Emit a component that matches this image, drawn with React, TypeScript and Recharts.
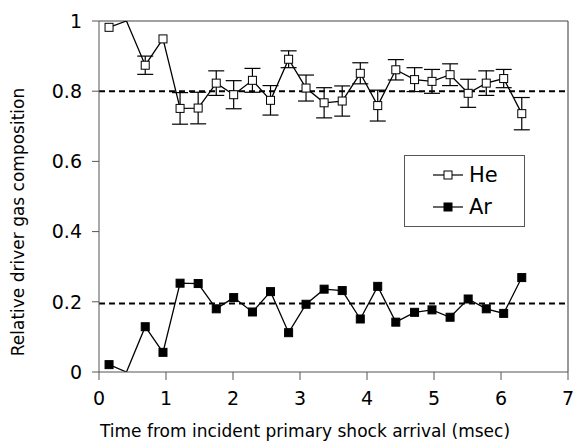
import React from "react";
import {
  ComposedChart,
  Line,
  XAxis,
  YAxis,
  ReferenceLine,
  ErrorBar,
  Label,
} from "recharts";

const times = [0.15, 0.41, 0.69, 0.955, 1.21, 1.48, 1.75, 2.01, 2.29, 2.56, 2.83, 3.09, 3.36, 3.63, 3.9, 4.16, 4.43, 4.71, 4.97, 5.24, 5.51, 5.78, 6.04, 6.31];
const heValues = [0.982, 1.0, 0.874, 0.949, 0.751, 0.752, 0.823, 0.79, 0.831, 0.774, 0.891, 0.809, 0.767, 0.772, 0.851, 0.759, 0.861, 0.833, 0.828, 0.847, 0.794, 0.823, 0.836, 0.736];
const heErrors = [null, null, 0.026, null, 0.045, 0.045, 0.035, 0.04, 0.034, 0.042, 0.024, 0.037, 0.043, 0.043, 0.03, 0.044, 0.029, 0.034, 0.034, 0.031, 0.04, 0.035, 0.026, 0.046];
const arValues = [0.021, 0.0, 0.129, 0.056, 0.253, 0.252, 0.18, 0.212, 0.171, 0.229, 0.112, 0.193, 0.236, 0.232, 0.151, 0.244, 0.142, 0.17, 0.177, 0.156, 0.208, 0.18, 0.167, 0.269];
const hiddenMarkers = [1];
const xTicks = [0, 1, 2, 3, 4, 5, 6, 7];
const yTicks = [0, 0.2, 0.4, 0.6, 0.8, 1];
const heMean = 0.8;
const arMean = 0.195;
const seriesNames = ["He", "Ar"];

const data = times.map((t, i) => ({
  t,
  he: heValues[i],
  heErr: heErrors[i],
  ar: arValues[i],
}));

const FONT = "DejaVu Sans";

const makeDot = (filled: boolean) => (props: any) => {
  const { cx, cy, index } = props;
  if (hiddenMarkers.includes(index) || cx == null || cy == null) {
    return <g key={`d-${filled}-${index}`} />;
  }
  const s = 8;
  return (
    <rect
      key={`d-${filled}-${index}`}
      x={cx - s / 2}
      y={cy - s / 2}
      width={s}
      height={s}
      fill={filled ? "#000" : "#fff"}
      stroke="#000"
      strokeWidth={1}
    />
  );
};

const LegendBox = () => (
  <div
    style={{
      position: "absolute",
      left: 404,
      top: 155,
      width: 121,
      height: 72,
      border: "1px solid #555",
      background: "#fff",
      fontFamily: FONT,
      fontSize: 21,
      boxSizing: "border-box",
      paddingLeft: 28,
      paddingTop: 3,
    }}
  >
    {seriesNames.map((name, i) => (
      <div key={name} style={{ display: "flex", alignItems: "center", height: 32 }}>
        <svg width={32} height={12} style={{ marginRight: 4 }}>
          <line x1={0} y1={6} x2={30} y2={6} stroke="#000" strokeWidth={1.2} />
          <rect x={11} y={2} width={8} height={8} fill={i === 1 ? "#000" : "#fff"} stroke="#000" />
        </svg>
        <span style={{ lineHeight: "32px" }}>{name}</span>
      </div>
    ))}
  </div>
);

export default function App() {
  return (
    <div style={{ position: "absolute", left: 0, top: 0, width: 575, height: 444 }}>
      <ComposedChart
        width={575}
        height={444}
        data={data}
        margin={{ top: 21, right: 7, left: 0, bottom: 0 }}
      >
        <XAxis
          type="number"
          dataKey="t"
          domain={[0, 7]}
          ticks={xTicks}
          allowDataOverflow
          height={72}
          stroke="#555"
          tickSize={8}
          tickMargin={12}
          tick={{ fill: "#000", fontSize: 19, fontFamily: FONT }}
          tickLine={{ stroke: "#555" }}
        >
          <Label
            content={() => (
              <text x={305} y={437} textAnchor="middle" fontFamily={FONT} fontSize={17} fill="#000">
                Time from incident primary shock arrival (msec)
              </text>
            )}
          />
        </XAxis>
        <YAxis
          type="number"
          domain={[0, 1]}
          ticks={yTicks}
          allowDataOverflow
          width={99}
          stroke="#555"
          tickSize={7}
          tickMargin={10}
          tickFormatter={(v: number) => (v === 0 || v === 1 ? String(v) : v.toFixed(1))}
          tick={{ fill: "#000", fontSize: 19, fontFamily: FONT }}
          tickLine={{ stroke: "#555" }}
        >
          <Label
            content={() => (
              <text
                transform="translate(24, 222) rotate(-90)"
                textAnchor="middle"
                fontFamily={FONT}
                fontSize={17}
                fill="#000"
              >
                Relative driver gas composition
              </text>
            )}
          />
        </YAxis>
        <ReferenceLine y={1} stroke="#444" strokeWidth={1.2} />
        <ReferenceLine x={7} stroke="#555" strokeWidth={1.2} />
        <ReferenceLine y={heMean} stroke="#000" strokeWidth={2} strokeDasharray="6 4" />
        <ReferenceLine y={arMean} stroke="#000" strokeWidth={2} strokeDasharray="6 4" />
        <Line
          dataKey="he"
          name="He"
          stroke="#000"
          strokeWidth={1.3}
          dot={makeDot(false)}
          activeDot={false}
          isAnimationActive={false}
        >
          <ErrorBar dataKey="heErr" width={8} stroke="#000" strokeWidth={1.2} direction="y" isAnimationActive={false} />
        </Line>
        <Line
          dataKey="ar"
          name="Ar"
          stroke="#000"
          strokeWidth={1.3}
          dot={makeDot(true)}
          activeDot={false}
          isAnimationActive={false}
        />
      </ComposedChart>
      <LegendBox />
    </div>
  );
}
